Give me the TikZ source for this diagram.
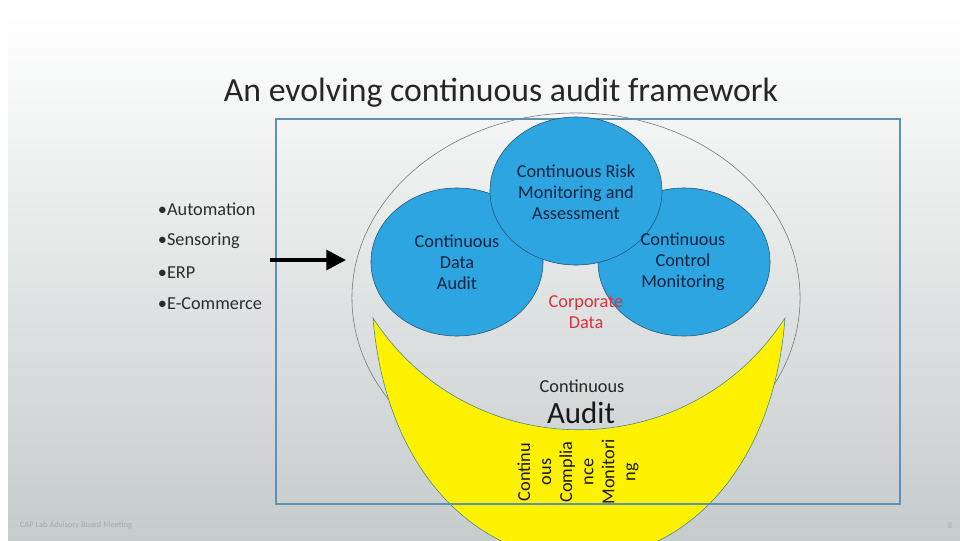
\documentclass[tikz,border=0pt]{standalone}
\usepackage{fontspec}
\setmainfont{Carlito}
\usepackage{xcolor}
\definecolor{CircleBlue}{RGB}{45,165,225}
\definecolor{CircleEdge}{RGB}{35,85,115}
\definecolor{NavyText}{RGB}{15,35,65}
\definecolor{FrameBlue}{RGB}{95,145,180}
\definecolor{MoonEdge}{RGB}{70,135,140}
\definecolor{DataRed}{RGB}{220,50,60}
\definecolor{BulletGray}{RGB}{45,45,45}
\definecolor{FootGray}{RGB}{165,170,170}
\definecolor{SlideGray}{RGB}{198,203,203}
\usetikzlibrary{shapes.geometric,arrows.meta}

\begin{document}
\begin{tikzpicture}[x=0.025cm,y=-0.025cm,
  area/.style={ellipse,draw=CircleEdge,fill=CircleBlue,minimum width=4.3cm,minimum height=3.7cm,inner sep=0pt},
  areatext/.style={align=center,text=NavyText,font=\fontsize{13}{15}\selectfont},
  bullet/.style={anchor=west,text=BulletGray,font=\fontsize{13}{15}\selectfont}]
  \useasboundingbox (0,0) rectangle (960,540);
  % slide background
  \fill[white] (0,0) rectangle (960,540);
  \shade[top color=white,middle color=black!8,bottom color=SlideGray] (8,14) rectangle (960,540);
  \node[text=black!85,font=\fontsize{24}{28}\selectfont] (title) at (501,93) {An evolving continuous audit framework};

  \node[ellipse,draw=black!55,minimum width=11.2cm,minimum height=9.25cm,inner sep=0pt] (core) at (576,298) {};
  \begin{scope}
    \clip (0,0) rectangle (960,540);
    \draw[fill=yellow,draw=MoonEdge] (373,318) .. controls (400,640) and (760,640) .. (785,318)
      .. controls (688,467) and (470,467) .. cycle;
  \end{scope}
  \draw[FrameBlue,line width=1pt] (276,119) rectangle (900,504);

  % the three areas
  \node[area] (cda) at (457,262) {};
  \node[area] (ccm) at (684,262) {};
  \node[area] (crma) at (576,191) {};
  \node[areatext] (cdatext) at (cda) {Continuous\\Data\\Audit};
  \node[areatext] (ccmtext) at (683,262) {Continuous\\Control\\Monitoring};
  \node[areatext] (crmatext) at (576,192) {Continuous Risk\\Monitoring and\\Assessment};

  \node[align=center,text=DataRed,font=\fontsize{13}{15}\selectfont] (corp) at (586,312) {Corporate\\Data};
  \node[text=black!85,font=\fontsize{13}{15}\selectfont] (cont) at (582,386) {Continuous};
  \node[text=black!90,font=\fontsize{22}{26}\selectfont] (audit) at (581,413) {Audit};
  \node[rotate=90,align=center,text=black!90,font=\fontsize{13}{15}\selectfont] (ccmon) at (578,472)
    {Continu\\ous\\Complia\\nce\\Monitori\\ng};

  % drivers
  \node[bullet] (drv1) at (153,209) {•Automation};
  \node[bullet] (drv2) at (153,241) {•Sensoring};
  \node[bullet] (drv3) at (153,273) {•ERP};
  \node[bullet] (drv4) at (153,304) {•E-Commerce};
  \coordinate (feedin) at (270,260);
  \coordinate (feedout) at (346,260);
  \draw[line width=2.8pt,-{Triangle[length=14pt,width=14pt]}] (feedin) -- (feedout);

  \node[anchor=west,text=FootGray,font=\fontsize{6}{7}\selectfont] (foot) at (15,525) {CAP Lab Advisory Board Meeting};
  \node[text=FootGray,font=\fontsize{6}{7}\selectfont] (page) at (950,526) {8};
\end{tikzpicture}
\end{document}
